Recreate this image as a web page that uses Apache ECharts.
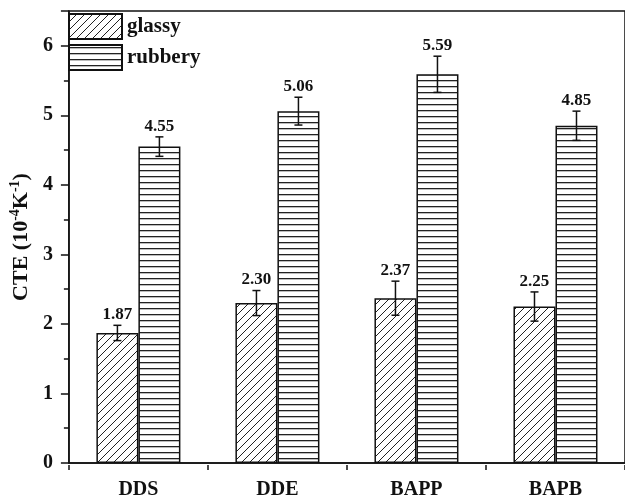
<!DOCTYPE html>
<html>
<head>
<meta charset="utf-8">
<script src="https://cdn.jsdelivr.net/npm/echarts@6/dist/echarts.min.js"></script>
<style>
  html, body { margin: 0; padding: 0; background: #fff; }
  #chart { width: 625px; height: 500px; }
</style>
</head>
<body>
<div id="chart"></div>
<script>
// 数据
const categories = ['DDS', 'DDE', 'BAPP', 'BAPB']
const glassy = [1.87, 2.30, 2.37, 2.25]
const glassyErr = [0.11, 0.18, 0.245, 0.21]
const rubbery = [4.55, 5.06, 5.59, 4.85]
const rubberyErr = [0.14, 0.2, 0.26, 0.21]

const FONT = '"Liberation Serif", "Times New Roman", serif'
const BAR_W = 42

// 斜线填充
function hatchPattern() {
  const c = document.createElement('canvas')
  c.width = 8
  c.height = 8
  const ctx = c.getContext('2d')
  ctx.strokeStyle = '#222'
  ctx.lineWidth = 1
  ctx.beginPath()
  ctx.moveTo(0, 8); ctx.lineTo(8, 0)
  ctx.moveTo(-2, 2); ctx.lineTo(2, -2)
  ctx.moveTo(6, 10); ctx.lineTo(10, 6)
  ctx.stroke()
  return c
}

// 横线填充
function stripePattern() {
  const c = document.createElement('canvas')
  c.width = 6
  c.height = 6
  const ctx = c.getContext('2d')
  ctx.fillStyle = '#fff'
  ctx.fillRect(0, 0, 6, 6)
  ctx.fillStyle = '#222'
  ctx.fillRect(0, 2, 6, 1.3)
  return c
}

// 误差棒 + 数值标签
function errorSeries(values, errs, offset) {
  return {
    type: 'custom',
    silent: true,
    z: 5,
    data: values.map((v, i) => [i, v, errs[i]]),
    renderItem: function (params, api) {
      const i = api.value(0)
      const v = api.value(1)
      const e = api.value(2)
      const hi = api.coord([i, v + e])
      const lo = api.coord([i, v - e])
      const x = hi[0] + offset
      const cap = 4
      const ls = { stroke: '#111', lineWidth: 1.5 }
      return {
        type: 'group',
        children: [
          { type: 'line', shape: { x1: x, y1: hi[1], x2: x, y2: lo[1] }, style: ls },
          { type: 'line', shape: { x1: x - cap, y1: hi[1], x2: x + cap, y2: hi[1] }, style: ls },
          { type: 'line', shape: { x1: x - cap, y1: lo[1], x2: x + cap, y2: lo[1] }, style: ls },
          {
            type: 'text',
            style: {
              text: v.toFixed(2),
              x: x,
              y: hi[1] - 2,
              align: 'center',
              verticalAlign: 'bottom',
              font: 'bold 17px ' + FONT,
              fill: '#111',
            },
          },
        ],
      }
    },
  }
}

const chart = echarts.init(document.getElementById('chart'))

const GRID_TOP = 11
const GRID_BOTTOM = 35
const GRID_H = 500 - GRID_TOP - GRID_BOTTOM

chart.setOption({
  animation: false,
  backgroundColor: '#fff',
  textStyle: { fontFamily: FONT },
  // 右边框在画布外，只留下顶部的线
  grid: {
    show: true,
    borderColor: '#111',
    borderWidth: 1.5,
    left: 66,
    top: GRID_TOP,
    right: -4,
    bottom: GRID_BOTTOM,
  },
  legend: {
    left: 68,
    top: 13,
    padding: 0,
    orient: 'vertical',
    itemWidth: 53,
    itemHeight: 25,
    itemGap: 4,
    icon: 'rect',
    textStyle: { fontFamily: FONT, fontWeight: 'bold', fontSize: 21, color: '#111' },
    data: ['glassy', 'rubbery'],
  },
  xAxis: [
    {
      type: 'category',
      data: categories,
      z: 10,
      axisLine: { lineStyle: { color: '#111', width: 1.5 } },
      axisTick: { alignWithLabel: true, length: 8, lineStyle: { color: '#111', width: 1.5 } },
      axisLabel: { margin: 17, fontFamily: FONT, fontWeight: 'bold', fontSize: 20, color: '#111' },
    },
    {
      // 类目边界处的小刻度（移到底部）
      type: 'category',
      position: 'top',
      offset: -GRID_H,
      data: categories,
      axisLine: { show: true, lineStyle: { color: '#111', width: 1.5, opacity: 0 } },
      axisTick: { show: true, inside: true, alignWithLabel: false, length: 5, lineStyle: { color: '#111', width: 1.5 } },
      axisLabel: { show: false },
    },
  ],
  yAxis: {
    type: 'value',
    min: 0,
    max: 6.5,
    interval: 1,
    name: '{b|CTE (10}{s|-4}{b|K}{s|-1}{b|)}',
    nameLocation: 'middle',
    nameGap: 28,
    nameRotate: 90,
    nameTextStyle: {
      rich: {
        b: { fontFamily: FONT, fontWeight: 'bold', fontSize: 22, color: '#111', verticalAlign: 'bottom', lineHeight: 24 },
        s: { fontFamily: FONT, fontWeight: 'bold', fontSize: 14, color: '#111', verticalAlign: 'top', lineHeight: 24 },
      },
    },
    axisLine: { show: true, lineStyle: { color: '#111', width: 1.5 } },
    axisTick: { show: true, length: 8, lineStyle: { color: '#111', width: 1.5 } },
    minorTick: { show: true, splitNumber: 2, length: 5, lineStyle: { color: '#111', width: 1.5 } },
    splitLine: { show: false },
    axisLabel: {
      margin: 16,
      showMaxLabel: false,
      fontFamily: FONT,
      fontWeight: 'bold',
      fontSize: 20,
      color: '#111',
    },
  },
  series: [
    {
      name: 'glassy',
      type: 'bar',
      data: glassy,
      barWidth: BAR_W,
      barGap: '0%',
      itemStyle: {
        color: { image: hatchPattern(), repeat: 'repeat' },
        borderColor: '#111',
        borderWidth: 1.5,
      },
    },
    {
      name: 'rubbery',
      type: 'bar',
      data: rubbery,
      barWidth: BAR_W,
      barGap: '0%',
      itemStyle: {
        color: { image: stripePattern(), repeat: 'repeat' },
        borderColor: '#111',
        borderWidth: 1.5,
      },
    },
    errorSeries(glassy, glassyErr, -BAR_W / 2),
    errorSeries(rubbery, rubberyErr, BAR_W / 2),
  ],
})
</script>
</body>
</html>
